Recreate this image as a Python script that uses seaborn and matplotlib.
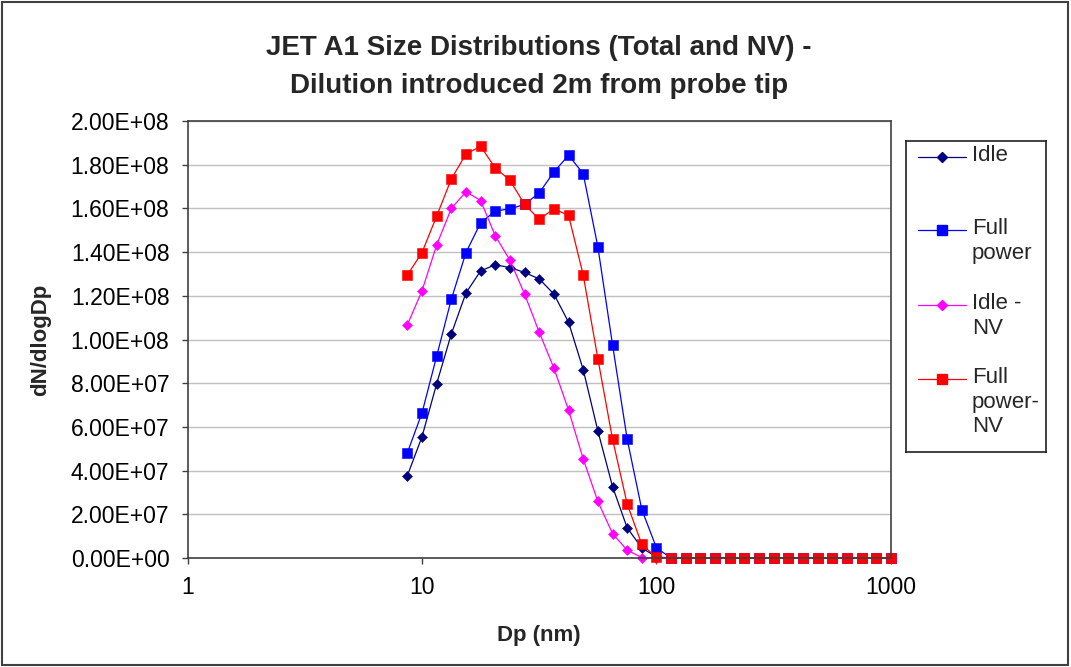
import numpy as np
import pandas as pd
import seaborn as sns
import matplotlib.pyplot as plt
from matplotlib.patches import Rectangle
from matplotlib.ticker import FuncFormatter, FixedLocator, NullLocator

# particle diameters (nm)
dp = [8.66, 10.0, 11.55, 13.34, 15.40, 17.78, 20.54, 23.71, 27.38, 31.62,
      36.52, 42.17, 48.70, 56.23, 64.94, 74.99, 86.60, 100.0, 115.48, 133.35,
      153.99, 177.83, 205.35, 237.14, 273.84, 316.23, 365.17, 421.70, 486.97,
      562.34, 649.38, 749.89, 865.96, 1000.0]

idle = [3.77e7, 5.55e7, 7.98e7, 1.026e8, 1.213e8, 1.314e8, 1.342e8, 1.329e8,
        1.307e8, 1.277e8, 1.208e8, 1.079e8, 8.62e7, 5.82e7, 3.27e7, 1.38e7,
        4.6e6, 5e5, 0, 0, 0, 0, 0, 0, 0, 0, 0, 0, 0, 0, 0, 0, 0, 0]
full_power = [4.82e7, 6.64e7, 9.24e7, 1.185e8, 1.398e8, 1.534e8, 1.588e8,
              1.598e8, 1.618e8, 1.671e8, 1.767e8, 1.843e8, 1.759e8, 1.424e8,
              9.76e7, 5.44e7, 2.21e7, 4.6e6, 0, 0, 0, 0, 0, 0, 0, 0, 0, 0, 0,
              0, 0, 0, 0, 0]
idle_nv = [1.067e8, 1.223e8, 1.433e8, 1.600e8, 1.676e8, 1.636e8, 1.474e8,
           1.363e8, 1.208e8, 1.033e8, 8.69e7, 6.77e7, 4.53e7, 2.59e7, 1.12e7,
           3.6e6, 2e5, 0, 0, 0, 0, 0, 0, 0, 0, 0, 0, 0, 0, 0, 0, 0, 0, 0]
full_power_nv = [1.295e8, 1.398e8, 1.565e8, 1.735e8, 1.849e8, 1.884e8,
                 1.785e8, 1.729e8, 1.618e8, 1.550e8, 1.598e8, 1.568e8,
                 1.295e8, 9.12e7, 5.44e7, 2.47e7, 6.2e6, 3e5, 0, 0, 0, 0, 0,
                 0, 0, 0, 0, 0, 0, 0, 0, 0, 0, 0]

series = ["Idle", "Full power", "Idle - NV", "Full power-NV"]
legend_labels = ["Idle", "Full\npower", "Idle -\nNV", "Full\npower-\nNV"]
colors = ["#000080", "#0000FF", "#FF00FF", "#FF0000"]
markers = ["D", "s", "D", "s"]
msizes = [5.6, 7.8, 5.6, 7.8]

df = pd.DataFrame({"Dp": dp * 4,
                   "value": idle + full_power + idle_nv + full_power_nv,
                   "series": np.repeat(series, len(dp))})

sns.set_theme(style="white")
plt.rcParams['font.family'] = ['Liberation Sans', 'DejaVu Sans']

fig = plt.figure(figsize=(10.71, 6.67), dpi=100)
ax = fig.add_axes([0.1751, 0.1634, 0.6568, 0.6552])

for name, c, m, ms in zip(series, colors, markers, msizes):
    sns.lineplot(data=df[df["series"] == name], x="Dp", y="value",
                 color=c, marker=m, markersize=ms, markeredgewidth=0.4,
                 markeredgecolor=c, linewidth=0.9, estimator=None,
                 sort=False, legend=False, clip_on=False, ax=ax)

ax.set_xscale("log")
ax.set_xlim(1, 1000)
ax.set_ylim(0, 2e8)
ax.xaxis.set_major_locator(FixedLocator([1, 10, 100, 1000]))
ax.xaxis.set_minor_locator(NullLocator())
ax.xaxis.set_major_formatter(FuncFormatter(lambda v, p: f"{v:g}"))
ax.set_yticks(np.arange(0, 2.01e8, 2e7))
ax.yaxis.set_major_formatter(FuncFormatter(lambda v, p: f"{v:.2E}"))
ax.grid(axis="y", color="#c0c0c0", linewidth=1)
ax.grid(axis="x", visible=False)
ax.set_axisbelow(True)
for s in ax.spines.values():
    s.set_color("#404040")
    s.set_linewidth(1.2)
ax.tick_params(axis="both", direction="out", length=4, width=1,
               color="#404040", labelsize=16.5, labelcolor="black")
ax.tick_params(axis="x", pad=9, bottom=True)
ax.tick_params(axis="y", pad=9, left=True)

ax.set_xlabel("Dp (nm)", fontsize=16, fontweight="bold", labelpad=19)
ax.set_ylabel("dN/dlogDp", fontsize=16, fontweight="bold", labelpad=14)
ax.set_title("JET A1 Size Distributions (Total and NV) -\n"
             "Dilution introduced 2m from probe tip",
             fontsize=20, fontweight="bold", linespacing=1.6, pad=20)

# legend box drawn in its own axes (pixel-like coordinates)
lax = fig.add_axes([906 / 1071, 1 - 452 / 667, 140 / 1071, 311 / 667])
lax.set_xlim(906, 1046)
lax.set_ylim(452, 141)
lax.set_xticks([])
lax.set_yticks([])
for s in lax.spines.values():
    s.set_color("#202020")
    s.set_linewidth(1.2)
for i, (lab, c, m, ms) in enumerate(zip(legend_labels, colors, markers, msizes)):
    y = [157, 230, 305, 379][i]
    lax.plot([918, 942, 966], [y, y, y], color=c, linewidth=0.9,
             marker=m, markersize=ms, markevery=[1], markeredgecolor=c)
    lax.text(972, y - 12, lab, fontsize=16, va="top", ha="left",
             linespacing=1.22)

fig.patches.append(Rectangle((0.002, 0.003), 0.995, 0.994,
                             transform=fig.transFigure, fill=False,
                             edgecolor="#404040", linewidth=1.5))

fig.savefig("out.png", dpi=100)
